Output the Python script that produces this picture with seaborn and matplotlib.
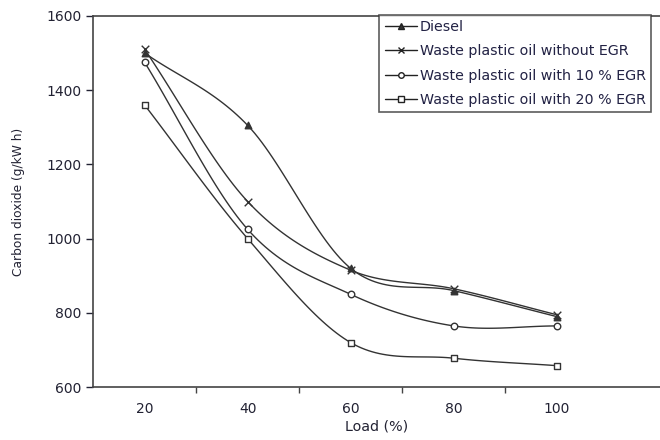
import numpy as np
import matplotlib
matplotlib.use("Agg")
import matplotlib.pyplot as plt
import seaborn as sns
import pandas as pd
from matplotlib.lines import Line2D

load = [20, 40, 60, 80, 100]
diesel = [1500, 1305, 920, 860, 790]
wpo_no_egr = [1510, 1100, 915, 865, 795]
wpo_10 = [1475, 1025, 850, 765, 765]
wpo_20 = [1360, 1000, 720, 678, 658]
series_names = ["Diesel", "Waste plastic oil without EGR",
                "Waste plastic oil with 10 % EGR", "Waste plastic oil with 20 % EGR"]
markers = ["^", "x", "o", "s"]

sns.set_style("ticks")
plt.rcParams['font.family'] = ['DejaVu Sans']

fig = plt.figure(figsize=(6.6, 4.4), dpi=100)
ax = fig.add_axes([0.141, 0.12, 0.859, 0.844])


def catmull(x, y, n=30):
    x = np.asarray(x, float); y = np.asarray(y, float)
    px = np.concatenate([[2 * x[0] - x[1]], x, [2 * x[-1] - x[-2]]])
    py = np.concatenate([[2 * y[0] - y[1]], y, [2 * y[-1] - y[-2]]])
    xs, ys = [], []
    t = np.linspace(0, 1, n)
    for i in range(1, len(px) - 2):
        for arr, out in ((px, xs), (py, ys)):
            p0, p1, p2, p3 = arr[i - 1], arr[i], arr[i + 1], arr[i + 2]
            out.extend(0.5 * ((2 * p1) + (-p0 + p2) * t + (2 * p0 - 5 * p1 + 4 * p2 - p3) * t ** 2
                              + (-p0 + 3 * p1 - 3 * p2 + p3) * t ** 3))
    return np.array(xs), np.array(ys)


rows = []
for name, vals in zip(series_names, [diesel, wpo_no_egr, wpo_10, wpo_20]):
    for l, v in zip(load, vals):
        rows.append({"Load": l, "CO2": v, "Series": name})
df = pd.DataFrame(rows)

handles = []
for name, mk in zip(series_names, markers):
    sub = df[df.Series == name]
    sx, sy = catmull(sub.Load.values, sub.CO2.values)
    ax.plot(sx, sy, color="#333333", lw=1.0)
    face = "#333333" if mk in ("^", "x") else "white"
    sns.scatterplot(x=sub.Load, y=sub.CO2, marker=mk, s=22 if mk != "x" else 30,
                    facecolor=face, edgecolor="#333333", linewidth=1.0, ax=ax,
                    color="#333333", zorder=3, legend=False)
    handles.append(Line2D([0], [0], color="#222222", lw=1.0, marker=mk, markersize=4,
                          markerfacecolor=face, markeredgecolor="#222222"))

ax.set_xlim(10, 120)
ax.set_ylim(600, 1600)
ax.set_yticks([600, 800, 1000, 1200, 1400, 1600])
ax.set_xticks([20, 40, 60, 80, 100])
ax.set_xticks([30, 50, 70, 90], minor=True)
ax.tick_params(axis='x', which='major', length=0, pad=11, labelsize=10, colors="#222233")
ax.tick_params(axis='x', which='minor', length=4, width=1, direction='out', color="#444444")
ax.tick_params(axis='y', length=5, width=1, labelsize=10, colors="#222233")
for s in ["left", "bottom", "top"]:
    ax.spines[s].set_linewidth(1.2)
    ax.spines[s].set_color("#444444")
ax.spines["right"].set_visible(False)
ax.set_xlabel("Load (%)", fontsize=10.3, color="#222233", labelpad=2)
ax.set_ylabel("Carbon dioxide (g/kW h)", fontsize=8.8, color="#222233", labelpad=15)

leg = fig.legend(handles, series_names, loc="upper left", bbox_to_anchor=(0.575, 0.966),
                 bbox_transform=fig.transFigure, fontsize=10.3, frameon=True, fancybox=False,
                 handlelength=2.3, handletextpad=0.15, labelspacing=0.72, borderpad=0.35,
                 borderaxespad=0)
leg.get_frame().set_edgecolor("#333333")
leg.get_frame().set_linewidth(1.2)
for t in leg.get_texts():
    t.set_color("#222244")

fig.savefig("out.png", dpi=100)
